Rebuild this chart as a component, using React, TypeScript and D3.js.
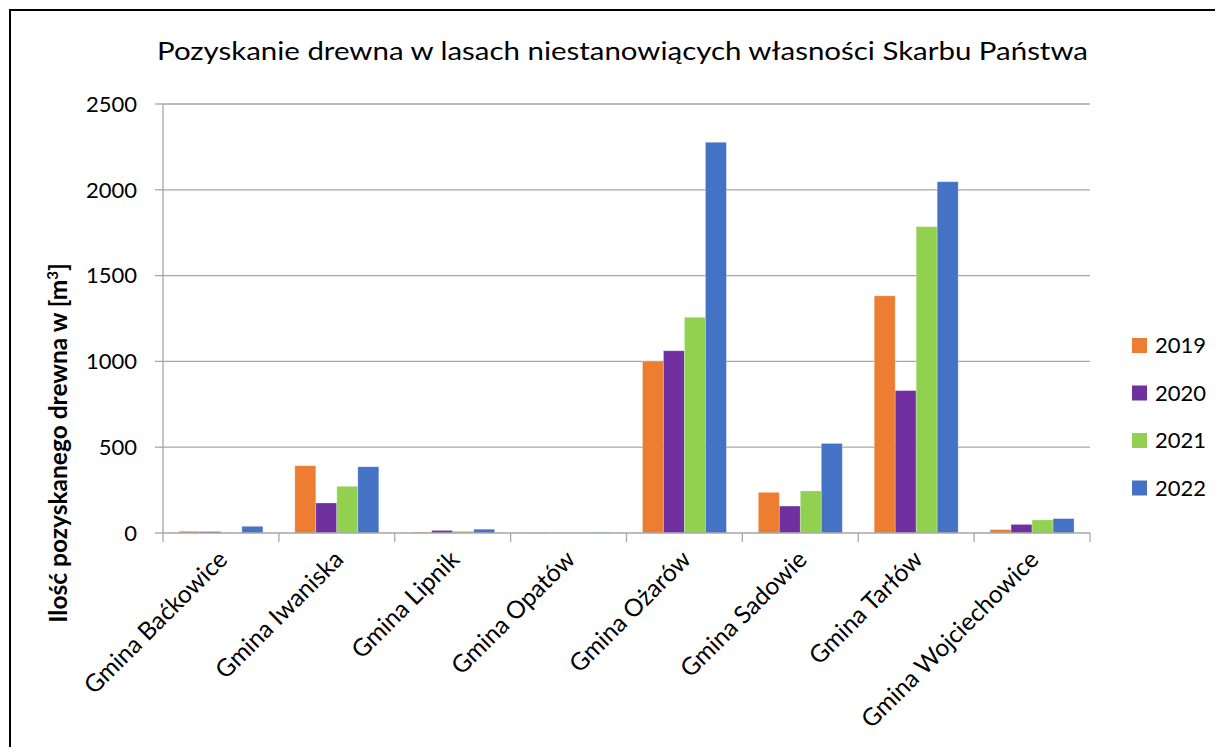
import React from "react";
import * as d3 from "d3";

const categories = [
  "Gmina Baćkowice",
  "Gmina Iwaniska",
  "Gmina Lipnik",
  "Gmina Opatów",
  "Gmina Ożarów",
  "Gmina Sadowie",
  "Gmina Tarłów",
  "Gmina Wojciechowice",
];
const seriesNames = ["2019", "2020", "2021", "2022"];
const values2019 = [10, 392, 5, 3, 1002, 237, 1382, 20];
const values2020 = [8, 175, 15, 0, 1062, 157, 830, 50];
const values2021 = [0, 272, 10, 2, 1257, 245, 1785, 76];
const values2022 = [39, 386, 22, 3, 2277, 522, 2047, 84];
const seriesValues = [values2019, values2020, values2021, values2022];
const yTicks = [0, 500, 1000, 1500, 2000, 2500];
const colors = ["#ED7D31", "#7030A0", "#92D050", "#4472C4"];

const FONT = "Lato, 'Liberation Sans', sans-serif";

export default function App() {
  const W = 1223;
  const H = 755;
  const left = 163;
  const right = 1090;
  const top = 104;
  const bottom = 533;

  const x0 = d3.scaleBand<string>().domain(categories).range([left, right]).padding(0);
  const x1 = d3
    .scaleBand<string>()
    .domain(seriesNames)
    .range([0, x0.bandwidth()])
    .paddingInner(0)
    .paddingOuter(0.76);
  const y = d3.scaleLinear().domain([0, 2500]).range([bottom, top]);

  const boundaries = d3.range(categories.length + 1).map((i) => left + i * x0.step());

  return (
    <div style={{ margin: -8 }}>
      <svg width={W} height={H} style={{ display: "block", fontFamily: FONT }}>
        <rect x={0} y={0} width={W} height={H} fill="#fff" />
        <rect x={10} y={10} width={W + 20} height={H + 20} fill="#fff" stroke="#000" strokeWidth={2} />
        <text
          x={(157 + 1088) / 2}
          y={60}
          textAnchor="middle"
          fontSize={25}
          fill="#000"
          textLength={931}
          lengthAdjust="spacingAndGlyphs"
        >
          Pozyskanie drewna w lasach niestanowiących własności Skarbu Państwa
        </text>

        {yTicks.map((t) => (
          <g key={t}>
            {t > 0 && (
              <line x1={left} x2={right} y1={y(t)} y2={y(t)} stroke="#a6a6a6" strokeWidth={1.3} />
            )}
            <line x1={155} x2={left} y1={y(t)} y2={y(t)} stroke="#a6a6a6" strokeWidth={1.3} />
            <text x={137} y={y(t)} dy="0.35em" textAnchor="end" fontSize={22} fill="#000">
              {t}
            </text>
          </g>
        ))}
        <line x1={left} x2={left} y1={top} y2={bottom} stroke="#a6a6a6" strokeWidth={1.3} />

        {seriesValues.map((vals, si) =>
          vals.map((v, ci) => (
            <rect
              key={`${si}-${ci}`}
              x={(x0(categories[ci]) as number) + (x1(seriesNames[si]) as number)}
              y={y(v)}
              width={x1.bandwidth()}
              height={bottom - y(v)}
              fill={colors[si]}
              stroke="#ffffff"
              strokeOpacity={0.35}
              strokeWidth={0.8}
            />
          ))
        )}

        <line x1={left} x2={right} y1={bottom} y2={bottom} stroke="#a6a6a6" strokeWidth={1.3} />
        {boundaries.map((bx, i) => (
          <line key={i} x1={bx} x2={bx} y1={bottom} y2={bottom + 9} stroke="#a6a6a6" strokeWidth={1.3} />
        ))}

        {categories.map((c) => {
          const cx = (x0(c) as number) + x0.bandwidth() / 2;
          return (
            <text
              key={c}
              transform={`translate(${cx + 8},${bottom + 28}) rotate(-45)`}
              textAnchor="end"
              fontSize={24.5}
              fill="#000"
            >
              {c}
            </text>
          );
        })}

        <text
          transform={`translate(67,${443}) rotate(-90)`}
          textAnchor="middle"
          fontSize={24.5}
          fontWeight="bold"
          fill="#000"
        >
          Ilość pozyskanego drewna w [m
          <tspan baselineShift="super" fontSize={15}>3</tspan>]
        </text>

        {seriesNames.map((s, i) => {
          const ly = 345.5 + i * 47.5;
          return (
            <g key={s}>
              <rect x={1132} y={ly - 7.5} width={15} height={15} fill={colors[i]} />
              <text x={1155} y={ly} dy="0.35em" fontSize={22} fill="#000">
                {s}
              </text>
            </g>
          );
        })}
      </svg>
    </div>
  );
}
